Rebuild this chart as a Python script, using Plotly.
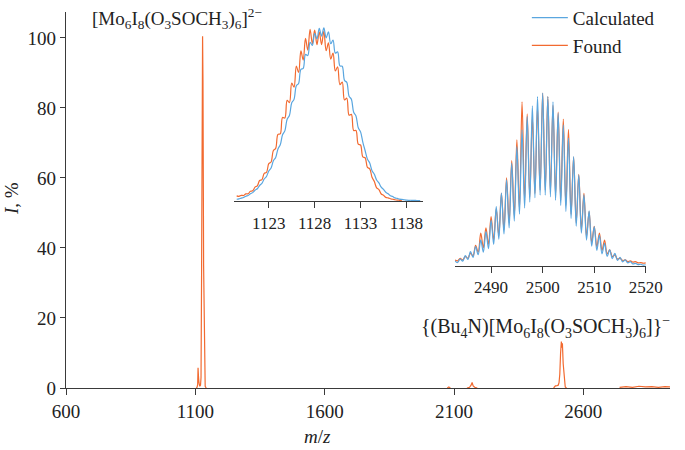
import plotly.graph_objects as go

# ---------------- data ----------------
# Main spectrum (Found), None = gaps between recorded fragments
main_mz = [1104, 1107, 1109, 1110.5, 1112, 1114, 1117, 1120, 1122, 1124, 1126.5, 1128, 1129.5, 1132, 1135, 1138, 1142, None,
           2074, 2080, 2086, None,
           2150, 2160, 2166, 2170, 2174, 2180, 2190, None,
           2485, 2492, 2498, 2503, 2506, 2509, 2512, 2515, 2517, 2519, 2522, 2526, 2530, 2535, None,
           2740, 2765, 2790, 2815, 2840, 2865, 2890, 2915, 2935]
main_int = [0, 0.3, 1.0, 5.8, 3.5, 1.5, 0.5, 0.8, 3, 30, 85, 100.5, 88, 35, 5, 0.5, 0, None,
            0, 0.3, 0, None,
            0, 0.2, 0.8, 1.6, 0.6, 0.2, 0, None,
            0, 0.6, 0.7, 0.8, 1.5, 4, 10, 13.3, 11.5, 12.8, 7, 2, 0.3, 0, None,
            0.2, 0.4, 0.2, 0.5, 0.3, 0.4, 0.2, 0.4, 0.3]

# Inset 1: [Mo6I8(O3SOCH3)6]2- isotope pattern
ins1_mz_calc = [1119.5, 1119.75, 1120.0, 1120.25, 1120.5, 1120.75, 1121.0, 1121.25, 1121.5, 1121.75,
                1122.0, 1122.25, 1122.5, 1122.75, 1123.0, 1123.25, 1123.5, 1123.75, 1124.0, 1124.25,
                1124.5, 1124.75, 1125.0, 1125.25, 1125.5, 1125.75, 1126.0, 1126.25, 1126.5, 1126.75,
                1127.0, 1127.25, 1127.5, 1127.75, 1128.0, 1128.25, 1128.5, 1128.75, 1129.0, 1129.25,
                1129.5, 1129.75, 1130.0, 1130.25, 1130.5, 1130.75, 1131.0, 1131.25, 1131.5, 1131.75,
                1132.0, 1132.25, 1132.5, 1132.75, 1133.0, 1133.25, 1133.5, 1133.75, 1134.0, 1134.25,
                1134.5, 1134.75, 1135.0, 1135.25, 1135.5, 1135.75, 1136.0, 1136.25, 1136.5, 1136.75,
                1137.0, 1137.25, 1137.5, 1137.75, 1138.0, 1138.25, 1138.5, 1138.75, 1139.0, 1139.25, 1139.5]
ins1_calc = [1.1, 1.3, 1.8, 2.1, 2.9, 3.3, 4.3, 5.0, 6.4, 7.3,
             9.2, 10.4, 13.0, 14.5, 17.7, 19.5, 23.7, 25.7, 30.7, 33.1,
             39.0, 41.3, 48.1, 50.3, 57.8, 59.8, 67.8, 69.2, 77.5, 78.0,
             86.2, 85.6, 93.4, 91.6, 98.6, 95.4, 101.5, 97.0, 101.8, 96.0,
             99.5, 92.5, 94.7, 87.0, 87.8, 79.5, 79.3, 71.0, 69.8, 61.7,
             59.9, 52.2, 50.1, 43.1, 40.7, 34.6, 29.6, 24.7, 22.4, 17.9,
             15.8, 12.4, 10.7, 8.2, 6.9, 5.2, 4.3, 3.2, 2.7, 1.9,
             1.6, 1.2, 1.0, 0.8, 0.6, 0.5, 0.5, 0.4, 0.4, 0.3, 0.3]
ins1_mz_found = [1119.5, 1119.75, 1120.0, 1120.25, 1120.5, 1120.75, 1121.0, 1121.25, 1121.5, 1121.75,
                 1122.0, 1122.25, 1122.5, 1122.75, 1123.0, 1123.25, 1123.5, 1123.75, 1124.0, 1124.25,
                 1124.5, 1124.75, 1125.0, 1125.25, 1125.5, 1125.75, 1126.0, 1126.25, 1126.5, 1126.75,
                 1127.0, 1127.25, 1127.5, 1127.75, 1128.0, 1128.25, 1128.5, 1128.75, 1129.0, 1129.25,
                 1129.5, 1129.75, 1130.0, 1130.25, 1130.5, 1130.75, 1131.0, 1131.25, 1131.5, 1131.75,
                 1132.0, 1132.25, 1132.5, 1132.75, 1133.0, 1133.25, 1133.5, 1133.75, 1134.0, 1134.25,
                 1134.5, 1134.75, 1135.0, 1135.25, 1135.5, 1135.75, 1136.0, 1136.25, 1136.5, 1136.75,
                 1137.0, 1137.25, 1137.5]
ins1_found = [3.1, 2.8, 3.4, 3.3, 4.3, 4.3, 5.8, 6.1, 8.2, 9.0,
              12.1, 12.6, 16.3, 16.9, 22.0, 23.0, 29.8, 31.0, 39.2, 39.5,
              49.2, 48.8, 59.2, 57.9, 69.4, 67.0, 79.4, 75.6, 88.3, 82.9,
              95.7, 88.7, 101.0, 92.5, 100.5, 92.0, 99.5, 92.0, 100.0, 88.5,
              93.0, 83.5, 87.0, 76.5, 79.0, 68.5, 70.0, 59.5, 60.5, 50.5,
              51.0, 41.5, 41.5, 33.5, 33.0, 26.0, 25.5, 19.8, 19.0, 14.0,
              11.5, 7.8, 6.8, 4.2, 3.4, 2.2, 1.9, 1.4, 1.1, 0.8,
              0.6, 0.5, 0.4]

# Inset 2: {(Bu4N)[Mo6I8(O3SOCH3)6]}- isotope pattern
ins2_mz = [2483, 2483.5, 2484, 2484.5, 2485, 2485.5, 2486, 2486.5, 2487, 2487.5,
           2488, 2488.5, 2489, 2489.5, 2490, 2490.5, 2491, 2491.5, 2492, 2492.5,
           2493, 2493.5, 2494, 2494.5, 2495, 2495.5, 2496, 2496.5, 2497, 2497.5,
           2498, 2498.5, 2499, 2499.5, 2500, 2500.5, 2501, 2501.5, 2502, 2502.5,
           2503, 2503.5, 2504, 2504.5, 2505, 2505.5, 2506, 2506.5, 2507, 2507.5,
           2508, 2508.5, 2509, 2509.5, 2510, 2510.5, 2511, 2511.5, 2512, 2512.5,
           2513, 2513.5, 2514, 2514.5, 2515, 2515.5, 2516, 2516.5, 2517, 2517.5,
           2518, 2518.5, 2519, 2519.5, 2520]
ins2_calc = [3.0, 2.0, 4.0, 2.8, 6.0, 3.8, 8.3, 5.0, 11.2, 6.5,
             15.1, 8.0, 19.9, 10.0, 26.6, 12.5, 34.4, 15.5, 42.1, 18.5,
             49.8, 22.0, 59.5, 26.0, 69.0, 30.0, 78.8, 33.5, 86.5, 37.0,
             92.7, 39.5, 98.0, 41.0, 100.0, 41.0, 98.0, 40.0, 95.0, 38.0,
             88.4, 35.0, 81.7, 31.5, 74.0, 27.5, 63.3, 23.0, 52.7, 19.0,
             41.1, 15.0, 31.9, 11.5, 22.8, 9.0, 17.8, 7.0, 13.1, 5.5,
             9.3, 4.3, 7.3, 3.2, 5.0, 2.4, 3.5, 1.8, 2.5, 1.2,
             1.5, 0.8, 1.0, 0.5, 0.7]
ins2_found = [3.5, 3.0, 4.4, 3.5, 5.4, 4.5, 7.3, 6.0, 12.0, 8.0,
              19.0, 10.5, 22.0, 12.5, 28.5, 15.0, 33.0, 17.5, 42.0, 21.0,
              51.0, 25.0, 61.0, 29.0, 73.0, 33.0, 95.0, 38.0, 88.0, 40.0,
              86.0, 42.0, 92.0, 44.0, 100.0, 44.0, 98.0, 43.0, 93.0, 41.0,
              89.0, 38.0, 85.0, 35.0, 79.0, 30.0, 63.0, 25.0, 53.0, 21.0,
              42.0, 17.0, 31.5, 13.5, 23.0, 11.0, 19.0, 9.0, 15.0, 7.0,
              9.3, 5.5, 6.4, 4.0, 4.4, 3.2, 3.5, 2.5, 3.0, 2.2,
              2.5, 1.8, 2.0, 1.6, 1.8]

main_ticks = [600, 1100, 1600, 2100, 2600]
y_ticks = [0, 20, 40, 60, 80, 100]
ins1_ticks = [1123, 1128, 1133, 1138]
ins2_ticks = [2490, 2500, 2510, 2520]

# ---------------- style ----------------
BLUE = "#5aa6df"
ORANGE = "#f26a30"
AX = "#3a3a3a"
FONT = "Liberation Serif"

fig = go.Figure()

fig.add_trace(go.Scatter(x=main_mz, y=main_int, mode="lines", name="Found",
                         line=dict(color=ORANGE, width=1.2), connectgaps=False,
                         showlegend=True, legendrank=2, xaxis="x", yaxis="y"))

fig.add_trace(go.Scatter(x=ins1_mz_found, y=ins1_found, mode="lines", name="Found",
                         line=dict(color=ORANGE, width=1.2, shape="spline"),
                         showlegend=False, xaxis="x2", yaxis="y2"))
fig.add_trace(go.Scatter(x=ins1_mz_calc, y=ins1_calc, mode="lines", name="Calculated",
                         line=dict(color=BLUE, width=1.2, shape="spline"),
                         showlegend=True, legendrank=1, xaxis="x2", yaxis="y2"))

fig.add_trace(go.Scatter(x=ins2_mz, y=ins2_found, mode="lines", name="Found",
                         line=dict(color=ORANGE, width=1.2, shape="spline"),
                         showlegend=False, xaxis="x3", yaxis="y3"))
fig.add_trace(go.Scatter(x=ins2_mz, y=ins2_calc, mode="lines", name="Calculated",
                         line=dict(color=BLUE, width=1.2, shape="spline"),
                         showlegend=False, xaxis="x3", yaxis="y3"))

tickfont_main = dict(family=FONT, size=19, color="#222")
tickfont_ins = dict(family=FONT, size=17, color="#222")

fig.update_layout(
    width=685, height=450,
    margin=dict(l=66, r=15, t=12, b=62, autoexpand=False),
    paper_bgcolor="white", plot_bgcolor="white",
    font=dict(family=FONT, size=19, color="#222"),
    xaxis=dict(domain=[0, 1], range=[600, 2935], tickvals=main_ticks,
               showline=True, linecolor=AX, linewidth=1.2, ticks="outside",
               ticklen=6, tickcolor=AX, showgrid=False, zeroline=False,
               tickfont=tickfont_main, layer="above traces", automargin=False),
    yaxis=dict(domain=[0, 1], range=[0, 107.4], tickvals=y_ticks,
               showline=True, linecolor=AX, linewidth=1.2, ticks="outside",
               ticklen=5, tickcolor=AX, showgrid=False, zeroline=False,
               tickfont=tickfont_main, layer="above traces", automargin=False),
    xaxis2=dict(domain=[0.278, 0.591], anchor="y2", range=[1119.2, 1139.8],
                tickvals=ins1_ticks, showline=True, linecolor=AX, linewidth=1.2,
                ticks="outside", ticklen=6, tickcolor=AX, showgrid=False,
                zeroline=False, tickfont=tickfont_ins, automargin=False),
    yaxis2=dict(domain=[0.497, 0.963], anchor="x2", range=[0, 103], visible=False),
    xaxis3=dict(domain=[0.644, 0.960], anchor="y3", range=[2483, 2520],
                tickvals=ins2_ticks, showline=True, linecolor=AX, linewidth=1.2,
                ticks="outside", ticklen=6, tickcolor=AX, showgrid=False,
                zeroline=False, tickfont=tickfont_ins, automargin=False),
    yaxis3=dict(domain=[0.3245, 0.798], anchor="x3", range=[0, 103], visible=False),
    legend=dict(x=0.763, y=1.035, xanchor="left", yanchor="top",
                font=dict(family=FONT, size=19, color="#222"),
                bgcolor="rgba(0,0,0,0)", itemwidth=36, tracegroupgap=0),
    showlegend=True,
)

fig.add_annotation(xref="paper", yref="paper", x=0.0397, y=0.984, xanchor="left", yanchor="middle",
                   text="[Mo<sub>6</sub>I<sub>8</sub>(O<sub>3</sub>SOCH<sub>3</sub>)<sub>6</sub>]<sup>2−</sup>",
                   showarrow=False, font=dict(family=FONT, size=19, color="#222"))
fig.add_annotation(xref="paper", yref="paper", x=1.003, y=0.162, xanchor="right", yanchor="middle",
                   text="{(Bu<sub>4</sub>N)[Mo<sub>6</sub>I<sub>8</sub>(O<sub>3</sub>SOCH<sub>3</sub>)<sub>6</sub>]}<sup>−</sup>",
                   showarrow=False, font=dict(family=FONT, size=20, color="#222"))
fig.add_annotation(xref="paper", yref="paper", x=-0.089, y=0.503, xanchor="center", yanchor="middle",
                   text="<i>I</i>, %", textangle=-90, showarrow=False,
                   font=dict(family=FONT, size=19, color="#222"))
fig.add_annotation(xref="paper", yref="paper", x=0.417, y=-0.128, xanchor="center", yanchor="middle",
                   text="<i>m</i>/<i>z</i>", showarrow=False,
                   font=dict(family=FONT, size=19, color="#222"))

fig.write_html("out.html", config={"displayModeBar": False},
               post_script="document.body.style.margin='0px';")
